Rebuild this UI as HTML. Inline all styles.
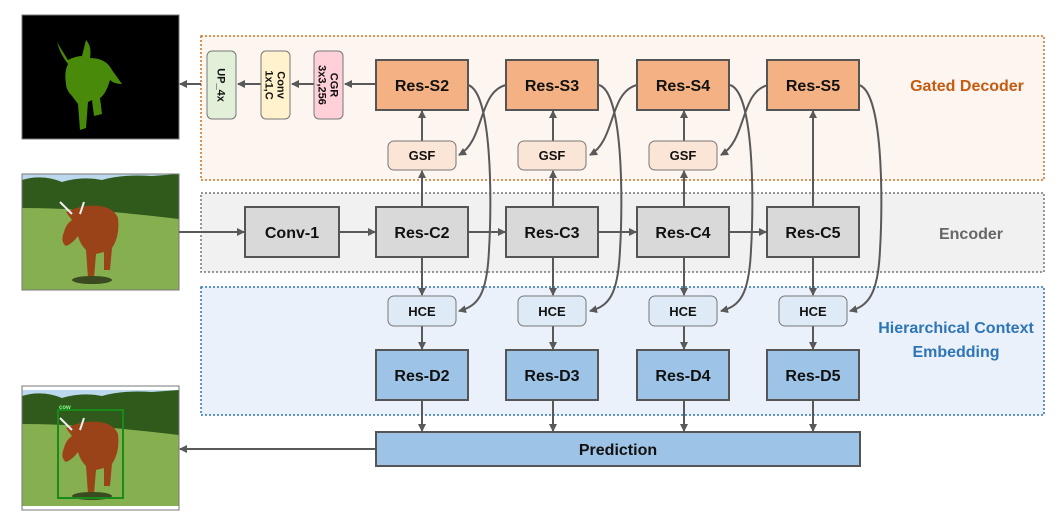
<!DOCTYPE html>
<html><head><meta charset="utf-8"><style>
html,body{margin:0;padding:0;background:#fff;width:1064px;height:525px;overflow:hidden}
text{font-family:"Liberation Sans",sans-serif;font-weight:bold}
</style></head><body>
<svg width="1064" height="525" viewBox="0 0 1064 525" xmlns="http://www.w3.org/2000/svg">
<defs>
<marker id="a" markerWidth="8" markerHeight="8" refX="7" refY="4" orient="auto" markerUnits="userSpaceOnUse">
<path d="M0,0 L8,4 L0,8 Z" fill="#595959"/></marker>
<symbol id="photo" viewBox="0 0 157 116">
<rect width="157" height="116" fill="#86b050"/>
<rect width="157" height="14" fill="#bcd8ee"/>
<path d="M0,6 Q20,0 40,8 Q60,2 80,6 Q100,0 130,2 L157,0 L157,45 Q100,38 60,36 Q30,34 0,34 Z" fill="#2f5a1c"/>
<path d="M44,38 Q60,30 78,32 Q92,34 96,44 Q98,62 90,74 L88,96 L82,96 L82,78 L74,80 L72,104 L66,104 L64,76 Q58,70 56,62 Q50,70 44,72 Q38,68 42,58 Q44,50 50,46 Z" fill="#9a4318"/>
<path d="M50,40 L38,28 M58,40 L62,28" stroke="#eee" stroke-width="2"/>
<ellipse cx="70" cy="106" rx="20" ry="4" fill="#3b4a20"/>
</symbol>
</defs>
<!-- images -->
<rect x="22" y="15" width="157" height="124" fill="#000" stroke="#777"/>
<path d="M57,42 Q64,54 68,60 Q76,56 82,56 L86,40 Q92,46 90,58 Q106,58 112,70 L122,84 Q114,84 110,80 Q106,94 100,98 L102,114 L94,116 L92,100 L88,102 L86,128 L80,130 L78,104 L72,96 Q66,90 66,84 Q64,72 68,64 Q60,54 57,42 Z" fill="#4a8a0a"/>
<use href="#photo" x="22" y="174" width="157" height="116"/>
<rect x="22" y="174" width="157" height="116" fill="none" stroke="#777"/>
<use href="#photo" x="22" y="386" width="157" height="124"/>
<rect x="22" y="386" width="157" height="124" fill="none" stroke="#777"/>
<rect x="58" y="410" width="65" height="88" fill="none" stroke="#1a8a1a" stroke-width="2"/>
<text x="59" y="409" font-size="6" fill="#8f8" font-weight="normal">cow</text>
<!-- region boxes -->
<rect x="201" y="36" width="843" height="144" fill="#fdf5f0" stroke="#c8702a" stroke-width="1.5" stroke-dasharray="2,2"/>
<rect x="201" y="193" width="843" height="79" fill="#f1f1f1" stroke="#777" stroke-width="1.5" stroke-dasharray="2,2"/>
<rect x="201" y="287" width="843" height="128" fill="#eaf1fa" stroke="#2e75b6" stroke-width="1.5" stroke-dasharray="2,2"/>
<text x="967" y="91" font-size="16" fill="#c55a11" text-anchor="middle">Gated Decoder</text>
<text x="971" y="239" font-size="16" fill="#666" text-anchor="middle">Encoder</text>
<text x="956" y="333" font-size="16" fill="#2e75b6" text-anchor="middle">Hierarchical Context</text>
<text x="956" y="357" font-size="16" fill="#2e75b6" text-anchor="middle">Embedding</text>
<g stroke="#595959" stroke-width="2" fill="none">
<line x1="201" y1="84" x2="180" y2="84" marker-end="url(#a)"/>
<line x1="261" y1="84" x2="238" y2="84" marker-end="url(#a)"/>
<line x1="314" y1="84" x2="292" y2="84" marker-end="url(#a)"/>
<line x1="376" y1="84" x2="345" y2="84" marker-end="url(#a)"/>
<line x1="179" y1="232" x2="244" y2="232" marker-end="url(#a)"/>
<line x1="339" y1="232" x2="375" y2="232" marker-end="url(#a)"/>
<line x1="468" y1="232" x2="505" y2="232" marker-end="url(#a)"/>
<line x1="598" y1="232" x2="636" y2="232" marker-end="url(#a)"/>
<line x1="729" y1="232" x2="766" y2="232" marker-end="url(#a)"/>
<line x1="376" y1="449" x2="180" y2="449" marker-end="url(#a)"/>
<g id="col">
<line x1="422" y1="207" x2="422" y2="171" marker-end="url(#a)"/>
<line x1="422" y1="141" x2="422" y2="111" marker-end="url(#a)"/>
<line x1="422" y1="257" x2="422" y2="295" marker-end="url(#a)"/>
<line x1="422" y1="326" x2="422" y2="349" marker-end="url(#a)"/>
<line x1="422" y1="400" x2="422" y2="431" marker-end="url(#a)"/>
<path d="M468,85 C492,92 492,200 489,250 C487,295 478,306 459,311" marker-end="url(#a)"/>
<path d="M506,85 C478,92 485,140 459,155" marker-end="url(#a)"/>
</g>
<use href="#col" x="131"/>
<use href="#col" x="262"/>
<line x1="813" y1="207" x2="813" y2="111" marker-end="url(#a)"/>
<line x1="813" y1="257" x2="813" y2="295" marker-end="url(#a)"/>
<line x1="813" y1="326" x2="813" y2="349" marker-end="url(#a)"/>
<line x1="813" y1="400" x2="813" y2="431" marker-end="url(#a)"/>
<path d="M859,85 C883,92 883,200 880,250 C878,295 868,306 850,311" marker-end="url(#a)"/>
</g>
<rect x="207" y="51" width="29" height="68" rx="5" fill="#e2f0d9" stroke="#777"/>
<rect x="261" y="51" width="29" height="68" rx="5" fill="#fff2cc" stroke="#777"/>
<rect x="314" y="51" width="29" height="68" rx="5" fill="#ffd0d8" stroke="#777"/>
<g font-size="11" fill="#111" text-anchor="middle">
<text transform="translate(221.5,85) rotate(90)" y="4">UP_4x</text>
<text transform="translate(275.5,85) rotate(90)" y="-2">Conv</text>
<text transform="translate(275.5,85) rotate(90)" y="10">1x1,C</text>
<text transform="translate(328.5,85) rotate(90)" y="-2">CGR</text>
<text transform="translate(328.5,85) rotate(90)" y="10">3x3,256</text>
</g>
<g stroke="#555" stroke-width="2">
<rect x="376" y="60" width="92" height="50" fill="#f4b183"/>
<rect x="506" y="60" width="92" height="50" fill="#f4b183"/>
<rect x="637" y="60" width="92" height="50" fill="#f4b183"/>
<rect x="767" y="60" width="92" height="50" fill="#f4b183"/>
<rect x="245" y="207" width="94" height="50" fill="#d9d9d9"/>
<rect x="376" y="207" width="92" height="50" fill="#d9d9d9"/>
<rect x="506" y="207" width="92" height="50" fill="#d9d9d9"/>
<rect x="637" y="207" width="92" height="50" fill="#d9d9d9"/>
<rect x="767" y="207" width="92" height="50" fill="#d9d9d9"/>
<rect x="376" y="350" width="92" height="50" fill="#9dc3e6"/>
<rect x="506" y="350" width="92" height="50" fill="#9dc3e6"/>
<rect x="637" y="350" width="92" height="50" fill="#9dc3e6"/>
<rect x="767" y="350" width="92" height="50" fill="#9dc3e6"/>
<rect x="376" y="432" width="484" height="34" fill="#9dc3e6"/>
</g>
<g stroke="#777" stroke-width="1">
<rect x="388" y="141" width="68" height="29" rx="6" fill="#fbe5d6"/>
<rect x="518" y="141" width="68" height="29" rx="6" fill="#fbe5d6"/>
<rect x="649" y="141" width="68" height="29" rx="6" fill="#fbe5d6"/>
<rect x="388" y="296" width="68" height="30" rx="6" fill="#deebf7"/>
<rect x="518" y="296" width="68" height="30" rx="6" fill="#deebf7"/>
<rect x="649" y="296" width="68" height="30" rx="6" fill="#deebf7"/>
<rect x="779" y="296" width="68" height="30" rx="6" fill="#deebf7"/>
</g>
<g font-size="16" fill="#111" text-anchor="middle">
<text x="422" y="91">Res-S2</text><text x="552" y="91">Res-S3</text><text x="683" y="91">Res-S4</text><text x="813" y="91">Res-S5</text>
<text x="292" y="238">Conv-1</text><text x="422" y="238">Res-C2</text><text x="552" y="238">Res-C3</text><text x="683" y="238">Res-C4</text><text x="813" y="238">Res-C5</text>
<text x="422" y="381">Res-D2</text><text x="552" y="381">Res-D3</text><text x="683" y="381">Res-D4</text><text x="813" y="381">Res-D5</text>
<text x="618" y="455">Prediction</text>
</g>
<g font-size="13" fill="#111" text-anchor="middle">
<text x="422" y="160">GSF</text><text x="552" y="160">GSF</text><text x="683" y="160">GSF</text>
<text x="422" y="316">HCE</text><text x="552" y="316">HCE</text><text x="683" y="316">HCE</text><text x="813" y="316">HCE</text>
</g>
</svg>
</body></html>
